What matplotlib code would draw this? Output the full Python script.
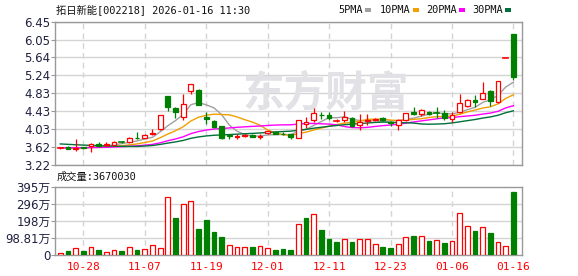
import numpy as np
import matplotlib
matplotlib.use('Agg')
import matplotlib.pyplot as plt
from matplotlib.patches import Rectangle

plt.rcParams['font.family'] = ['DejaVu Sans', 'Noto Sans CJK SC']

# 60 trading days, 2025-10-23 .. 2026-01-16
dates = ['10-23', '10-24', '10-27', '10-28', '10-29', '10-30', '10-31', '11-03', '11-04', '11-05',
         '11-06', '11-07', '11-10', '11-11', '11-12', '11-13', '11-14', '11-17', '11-18', '11-19',
         '11-20', '11-21', '11-24', '11-25', '11-26', '11-27', '11-28', '12-01', '12-02', '12-03',
         '12-04', '12-05', '12-08', '12-09', '12-10', '12-11', '12-12', '12-15', '12-16', '12-17',
         '12-18', '12-19', '12-22', '12-23', '12-24', '12-25', '12-26', '12-29', '12-30', '12-31',
         '01-05', '01-06', '01-07', '01-08', '01-09', '01-12', '01-13', '01-14', '01-15', '01-16']
label_dates = ['10-28', '11-07', '11-19', '12-01', '12-11', '12-23', '01-06', '01-16']

opens = [3.59, 3.61, 3.57, 3.61, 3.63, 3.69, 3.65, 3.66, 3.73, 3.72,
         3.83, 3.82, 3.90, 4.02, 4.76, 4.50, 4.30, 4.89, 4.91, 4.29,
         4.21, 4.08, 3.89, 3.85, 3.87, 3.89, 3.84, 3.93, 3.96, 3.92,
         3.90, 3.83, 4.14, 4.23, 4.35, 4.34, 4.20, 4.23, 4.27, 4.12,
         4.21, 4.22, 4.27, 4.19, 4.12, 4.22, 4.40, 4.36, 4.40, 4.39,
         4.38, 4.25, 4.40, 4.55, 4.68, 4.71, 4.89, 4.64, 5.62, 6.18]
highs = [3.62, 3.63, 3.79, 3.62, 3.71, 3.73, 3.72, 3.75, 3.75, 3.84,
         3.95, 3.90, 4.02, 4.33, 4.76, 4.51, 4.81, 5.04, 4.93, 4.40,
         4.22, 4.10, 3.90, 3.90, 3.92, 3.90, 3.90, 3.98, 3.97, 3.96,
         3.91, 4.22, 4.30, 4.50, 4.40, 4.40, 4.24, 4.43, 4.29, 4.36,
         4.36, 4.27, 4.30, 4.20, 4.24, 4.39, 4.52, 4.47, 4.43, 4.52,
         4.46, 4.40, 4.82, 4.71, 4.80, 5.08, 4.90, 5.11, 5.62, 6.18]
lows = [3.57, 3.56, 3.53, 3.58, 3.50, 3.61, 3.64, 3.65, 3.70, 3.71,
        3.80, 3.81, 3.88, 4.00, 4.42, 4.27, 4.23, 4.81, 4.56, 4.13,
        4.05, 3.80, 3.80, 3.80, 3.85, 3.84, 3.80, 3.92, 3.90, 3.89,
        3.80, 3.82, 4.04, 4.19, 4.25, 4.23, 4.18, 4.19, 4.07, 4.00,
        4.12, 4.20, 4.20, 4.10, 4.00, 4.20, 4.35, 4.32, 4.33, 4.27,
        4.23, 4.19, 4.38, 4.51, 4.53, 4.70, 4.54, 4.62, 5.62, 5.14]
closes = [3.60, 3.58, 3.60, 3.59, 3.68, 3.64, 3.68, 3.74, 3.72, 3.82,
          3.81, 3.89, 3.94, 4.33, 4.51, 4.40, 4.58, 5.04, 4.57, 4.26,
          4.06, 3.82, 3.86, 3.87, 3.89, 3.85, 3.86, 3.97, 3.91, 3.90,
          3.84, 4.22, 4.19, 4.38, 4.33, 4.28, 4.21, 4.30, 4.09, 4.19,
          4.23, 4.25, 4.22, 4.15, 4.22, 4.38, 4.37, 4.45, 4.37, 4.38,
          4.28, 4.35, 4.61, 4.68, 4.64, 4.84, 4.65, 5.11, 5.62, 5.19]
prev_close = 3.59

ma5 = [3.600, 3.596, 3.596, 3.594, 3.610, 3.618, 3.638, 3.666, 3.692, 3.720,
       3.754, 3.796, 3.836, 3.958, 4.096, 4.214, 4.352, 4.572, 4.620, 4.570,
       4.502, 4.350, 4.114, 3.974, 3.900, 3.858, 3.866, 3.888, 3.896, 3.898,
       3.896, 3.968, 4.012, 4.106, 4.192, 4.280, 4.278, 4.300, 4.242, 4.214,
       4.204, 4.212, 4.196, 4.208, 4.214, 4.244, 4.268, 4.314, 4.358, 4.390,
       4.370, 4.366, 4.398, 4.460, 4.512, 4.624, 4.684, 4.784, 4.972, 5.082]
ma10 = [3.600, 3.598, 3.598, 3.597, 3.605, 3.609, 3.617, 3.631, 3.643, 3.665,
        3.686, 3.717, 3.751, 3.825, 3.908, 3.984, 4.074, 4.204, 4.289, 4.333,
        4.358, 4.351, 4.343, 4.297, 4.235, 4.180, 4.108, 4.001, 3.935, 3.899,
        3.877, 3.917, 3.950, 4.001, 4.045, 4.088, 4.123, 4.156, 4.174, 4.203,
        4.242, 4.245, 4.248, 4.225, 4.214, 4.224, 4.240, 4.255, 4.283, 4.302,
        4.307, 4.317, 4.356, 4.409, 4.451, 4.497, 4.525, 4.591, 4.716, 4.797]
ma20 = [3.600, 3.599, 3.599, 3.599, 3.603, 3.605, 3.609, 3.616, 3.622, 3.633,
        3.643, 3.658, 3.675, 3.711, 3.757, 3.797, 3.846, 3.918, 3.966, 3.999,
        4.022, 4.034, 4.047, 4.061, 4.072, 4.082, 4.091, 4.103, 4.112, 4.116,
        4.118, 4.134, 4.147, 4.149, 4.140, 4.134, 4.116, 4.079, 4.055, 4.051,
        4.060, 4.081, 4.099, 4.113, 4.130, 4.156, 4.182, 4.206, 4.229, 4.253,
        4.275, 4.281, 4.302, 4.317, 4.333, 4.361, 4.383, 4.423, 4.500, 4.550]
ma30 = [3.685, 3.676, 3.667, 3.659, 3.653, 3.646, 3.640, 3.636, 3.631, 3.630,
        3.629, 3.638, 3.650, 3.674, 3.704, 3.731, 3.764, 3.812, 3.844, 3.866,
        3.881, 3.889, 3.897, 3.906, 3.916, 3.924, 3.933, 3.945, 3.956, 3.966,
        3.974, 3.995, 4.015, 4.041, 4.063, 4.084, 4.102, 4.120, 4.133, 4.145,
        4.159, 4.171, 4.180, 4.174, 4.165, 4.164, 4.157, 4.137, 4.131, 4.135,
        4.142, 4.160, 4.185, 4.212, 4.237, 4.270, 4.296, 4.334, 4.391, 4.434]

# volume in 万
volumes = [15, 23, 42, 23, 49, 32, 21, 32, 23, 49,
           32, 38, 61, 44, 334, 216, 296, 315, 152, 203,
           131, 106, 59, 47, 47, 49, 53, 42, 32, 38,
           32, 180, 215, 237, 146, 95, 78, 93, 78, 93,
           93, 65, 49, 44, 65, 104, 110, 110, 84, 87,
           72, 82, 241, 167, 141, 161, 129, 78, 53, 367.003]

price_ticks = [3.22, 3.62, 4.03, 4.43, 4.83, 5.24, 5.64, 6.05, 6.45]
vol_ticks = [0, 98.81, 197.62, 296.43, 395.24]
vol_tick_labels = ['0', '98.81万', '198万', '296万', '395万']

ma_names = ['5PMA', '10PMA', '20PMA', '30PMA']
ma_colors = ['#a0a0a0', '#f0a000', '#ff00ff', '#00703c']
RED, GREEN = '#ff0000', '#008000'
FRAME = '#999999'
GRIDC = '#d4d4d4'

W, H = 578, 276
fig = plt.figure(figsize=(W / 100, H / 100), dpi=100)
fig.patch.set_facecolor('white')

def fx(px):
    return px / W

def fy(py):
    return 1 - py / H

ax = fig.add_axes([fx(55.3), fy(164.5), fx(522.3) - fx(55.3), fy(21.7) - fy(164.5)])
axv = fig.add_axes([fx(55.3), fy(255.2), fx(522.3) - fx(55.3), fy(186.7) - fy(255.2)])

x = np.arange(len(dates))
label_idx = [dates.index(d) for d in label_dates]
xmin, xmax = -0.65, 60.16
width = 0.62

# price panel
ax.set_xlim(xmin, xmax)
ax.set_ylim(price_ticks[0], price_ticks[-1])
ygrid = np.linspace(price_ticks[0], price_ticks[-1], len(price_ticks))
for yv in ygrid:
    ax.axhline(yv, color=GRIDC, lw=1, zorder=0)
for i in label_idx:
    ax.axvline(i, color=GRIDC, lw=1, ls=(0, (4, 3)), zorder=0)

ax.text(0.58, 0.50, '东方财富', transform=ax.transAxes, ha='center', va='center',
        fontsize=30, fontweight='bold', color='#e2e2e6', family=['Noto Sans CJK SC'], zorder=0)

for name, ma, c in zip(ma_names, [ma5, ma10, ma20, ma30], ma_colors):
    ax.plot(x, ma, color=c, lw=1, zorder=2)

for i in range(len(dates)):
    o, h, l, c = opens[i], highs[i], lows[i], closes[i]
    col = RED if c >= o else GREEN
    ax.plot([i, i], [l, h], color=col, lw=0.9, zorder=3, solid_capstyle='butt')
    lo, hi = min(o, c), max(o, c)
    if hi - lo < 0.012:
        ax.plot([i - width / 2, i + width / 2], [c, c], color=col, lw=1.2, zorder=4)
    else:
        face = 'white' if c > o else col
        ax.add_patch(Rectangle((i - width / 2, lo), width, hi - lo, facecolor=face,
                               edgecolor=col, lw=0.9, zorder=4))

ax.set_yticks(ygrid)
ax.set_yticklabels(['%.2f' % v for v in price_ticks])
ax.set_xticks([])
ax.tick_params(axis='y', length=3, width=0.8, color=FRAME, pad=0.5,
               labelsize=8.5, labelcolor='#202040')
for s in ax.spines.values():
    s.set_color(FRAME)
    s.set_linewidth(1)

# volume panel
axv.set_xlim(xmin, xmax)
axv.set_ylim(vol_ticks[0], vol_ticks[-1])
for yv in vol_ticks[1:-1]:
    axv.axhline(yv, color=GRIDC, lw=1, zorder=0)
for i in label_idx:
    axv.axvline(i, color=GRIDC, lw=1, ls=(0, (4, 3)), zorder=0)

prev = [prev_close] + closes[:-1]
for i in range(len(dates)):
    up = closes[i] >= prev[i]
    if up:
        axv.bar(i, volumes[i], width=width, facecolor='white', edgecolor=RED, lw=0.9, zorder=3)
    else:
        axv.bar(i, volumes[i], width=width, facecolor=GREEN, edgecolor=GREEN, lw=0.9, zorder=3)

axv.set_yticks(vol_ticks)
axv.set_yticklabels(vol_tick_labels)
axv.set_xticks(label_idx)
axv.set_xticklabels(label_dates, family=['DejaVu Sans Mono'], fontsize=8, color=RED)
axv.tick_params(axis='y', length=3, width=0.8, color=FRAME, pad=0.5,
                labelsize=8.5, labelcolor='#202040')
axv.tick_params(axis='x', length=0, pad=5)
for s in axv.spines.values():
    s.set_color(FRAME)
    s.set_linewidth(1)

# header texts
mono = ['DejaVu Sans Mono', 'Noto Sans CJK SC']
fig.text(fx(56), fy(10), '拓日新能[002218] 2026-01-16 11:30', family=mono, fontsize=7.4,
         color='#111111', va='center', ha='left')
leg_x = [338, 380, 426, 472]
sq_x = [365, 413, 459, 505]
for name, c, tx, sx in zip(ma_names, ma_colors, leg_x, sq_x):
    fig.text(fx(tx), fy(10), name, family=mono, fontsize=7.4, color='#111111',
             va='center', ha='left')
    fig.patches.append(Rectangle((fx(sx), fy(11.5)), fx(6), 3.5 / H, transform=fig.transFigure,
                                 facecolor=c, edgecolor='none'))

fig.text(fx(57), fy(176.5), '成交量:%d' % round(volumes[-1] * 10000), family=mono,
         fontsize=7.4, color='#111111', va='center', ha='left')

fig.savefig('out.png', dpi=100)
